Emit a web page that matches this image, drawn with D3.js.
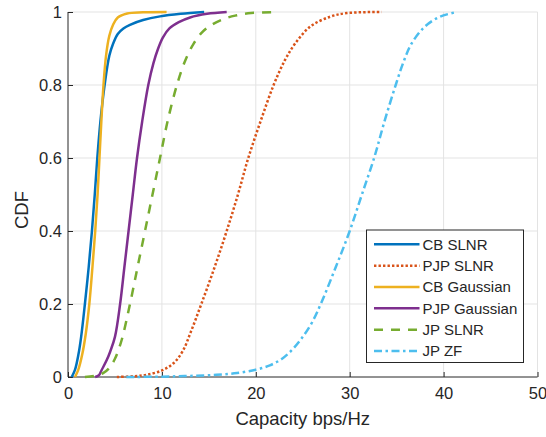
<!DOCTYPE html>
<html><head><meta charset="utf-8">
<script src="https://cdn.jsdelivr.net/npm/d3@7"></script>
<style>body{margin:0;background:#fff}svg{display:block}text{font-family:"Liberation Sans",Arial,sans-serif;fill:#262626}</style>
</head><body><svg id="c" width="546" height="437"></svg>
<script>
// Data (capacity value, CDF)
const seriesNames = ["CB SLNR","PJP SLNR","CB Gaussian","PJP Gaussian","JP SLNR","JP ZF"];
const cbSlnrX = [0.4,0.75,1.1,1.4,1.8,2.2,2.55,2.85,3.12,3.45,3.9,4.4,4.83,5.3,5.9,6.6,8,9.8,12,14.5];
const cbSlnrP = [0,0.02,0.06,0.11,0.2,0.3,0.4,0.5,0.6,0.7,0.8,0.88,0.915,0.94,0.955,0.965,0.978,0.988,0.995,1];
const pjpSlnrX = [5.2,7,8.4,10,11.2,12.2,13.1,14.2,15.6,16.9,18.1,19.2,20.5,21.9,23.1,24.2,25.8,27.9,29.7,33.4];
const pjpSlnrP = [0,0.002,0.006,0.018,0.037,0.07,0.125,0.2,0.3,0.4,0.5,0.6,0.7,0.8,0.868,0.914,0.96,0.987,0.997,1];
const cbGaussX = [0.75,1.1,1.5,1.9,2.27,2.6,2.9,3.15,3.35,3.55,3.78,4.05,4.4,4.8,5.3,6.3,8,10.5];
const cbGaussP = [0,0.02,0.06,0.12,0.2,0.3,0.4,0.5,0.6,0.7,0.8,0.88,0.935,0.965,0.985,0.996,0.999,1];
const pjpGaussX = [2.9,3.3,3.6,4.1,4.5,5.0,5.55,6.0,6.45,6.9,7.35,7.9,8.55,9.1,9.6,10.1,10.8,11.8,13,14.8,16.9];
const pjpGaussP = [0,0.005,0.02,0.045,0.07,0.11,0.2,0.3,0.4,0.5,0.6,0.7,0.8,0.86,0.9,0.93,0.955,0.972,0.985,0.995,1];
const jpSlnrX = [1.8,2.8,3.7,4.4,5.0,5.7,6.6,7.4,8.2,9.0,9.8,10.6,11.6,12.5,13.4,14.3,15.3,16.5,17.8,19.5,22.2];
const jpSlnrP = [0,0.003,0.01,0.025,0.05,0.1,0.2,0.3,0.4,0.5,0.6,0.7,0.8,0.868,0.914,0.945,0.965,0.98,0.99,0.997,1];
const jpZfX = [6.2,10,13,15.8,18,20,21.5,22.8,24,25,26,27,28.5,30.0,31.3,32.6,33.7,34.9,35.8,36.6,38.0,39.6,41.4];
const jpZfP = [0,0.001,0.003,0.006,0.011,0.02,0.032,0.05,0.078,0.11,0.15,0.205,0.3,0.4,0.5,0.6,0.7,0.8,0.868,0.914,0.96,0.987,1];
const xTicks = [0,10,20,30,40,50];
const yTicks = [0,0.2,0.4,0.6,0.8,1];
const colors = ["#0072BD","#D95319","#EDB120","#7E2F8E","#77AC30","#4DBEEE"];
const dashes = [null,"2.4,2.1",null,null,"9,8","8,3.5,2.5,3.5"];

const series = [
  [cbSlnrX,cbSlnrP],[pjpSlnrX,pjpSlnrP],[cbGaussX,cbGaussP],
  [pjpGaussX,pjpGaussP],[jpSlnrX,jpSlnrP],[jpZfX,jpZfP]
].map((s,i)=>({name:seriesNames[i],pts:s[0].map((x,j)=>[x,s[1][j]])}));

const L=68,R=537.5,T=12,B=377;
const svg=d3.select("#c");
const x=d3.scaleLinear().domain([0,50]).range([L,R]);
const y=d3.scaleLinear().domain([0,1]).range([B,T]);

// grid
const g=svg.append("g");
g.selectAll("line.vx").data(xTicks.slice(1)).join("line")
  .attr("x1",d=>x(d)).attr("x2",d=>x(d)).attr("y1",T).attr("y2",B)
  .attr("stroke","#e3e3e3").attr("stroke-width",1);
g.selectAll("line.hy").data(yTicks.slice(1)).join("line")
  .attr("x1",L).attr("x2",R).attr("y1",d=>y(d)).attr("y2",d=>y(d))
  .attr("stroke","#e3e3e3").attr("stroke-width",1);

// axes
const xa=svg.append("g").attr("transform",`translate(0,${B})`)
  .call(d3.axisBottom(x).tickValues(xTicks).tickSize(-5).tickPadding(10).tickFormat(d3.format("d")));
const ya=svg.append("g").attr("transform",`translate(${L},0)`)
  .call(d3.axisLeft(y).tickValues(yTicks).tickSize(-5).tickPadding(6).tickFormat(d=>d===0||d===1?d3.format("d")(d):d3.format(".1f")(d)));
[xa,ya].forEach(a=>{
  a.select(".domain").attr("stroke","#262626").attr("stroke-width",1);
  a.selectAll(".tick line").attr("stroke","#262626");
  a.selectAll(".tick text").attr("font-size","16.5px").attr("fill","#262626").attr("font-family","'Liberation Sans',Arial,sans-serif");
});
ya.select(".domain").attr("d",`M0,${B}V${T}`);
xa.select(".domain").attr("d",`M${L},0H${R}`);

// lines
const line=d3.line().x(d=>x(d[0])).y(d=>y(d[1])).curve(d3.curveCatmullRom.alpha(0.5));
svg.append("g").selectAll("path").data(series).join("path")
  .attr("d",d=>line(d.pts)).attr("fill","none")
  .attr("stroke",(d,i)=>colors[i]).attr("stroke-width",2.5)
  .attr("stroke-linejoin","round")
  .attr("stroke-dasharray",(d,i)=>dashes[i]);

// labels
svg.append("text").attr("x",(L+R)/2).attr("y",425).attr("text-anchor","middle")
  .attr("font-size","18.5px").text("Capacity bps/Hz");
svg.append("text").attr("transform","translate(27.5,210) rotate(-90)").attr("text-anchor","middle")
  .attr("font-size","18.5px").text("CDF");

// legend
const lg=svg.append("g");
lg.append("rect").attr("x",366.5).attr("y",230).attr("width",157).attr("height",132.5)
  .attr("fill","#fff").attr("stroke","#262626").attr("stroke-width",1);
const ent=lg.selectAll("g").data(series).join("g").attr("transform",(d,i)=>`translate(0,${244.3+i*21.35})`);
ent.append("line").attr("x1",374).attr("x2",419.5).attr("y1",0).attr("y2",0)
  .attr("stroke",(d,i)=>colors[i]).attr("stroke-width",2.5).attr("stroke-dasharray",(d,i)=>dashes[i]);
ent.append("text").attr("x",422.5).attr("y",5.3).attr("font-size","15px").text(d=>d.name);
</script></body></html>
